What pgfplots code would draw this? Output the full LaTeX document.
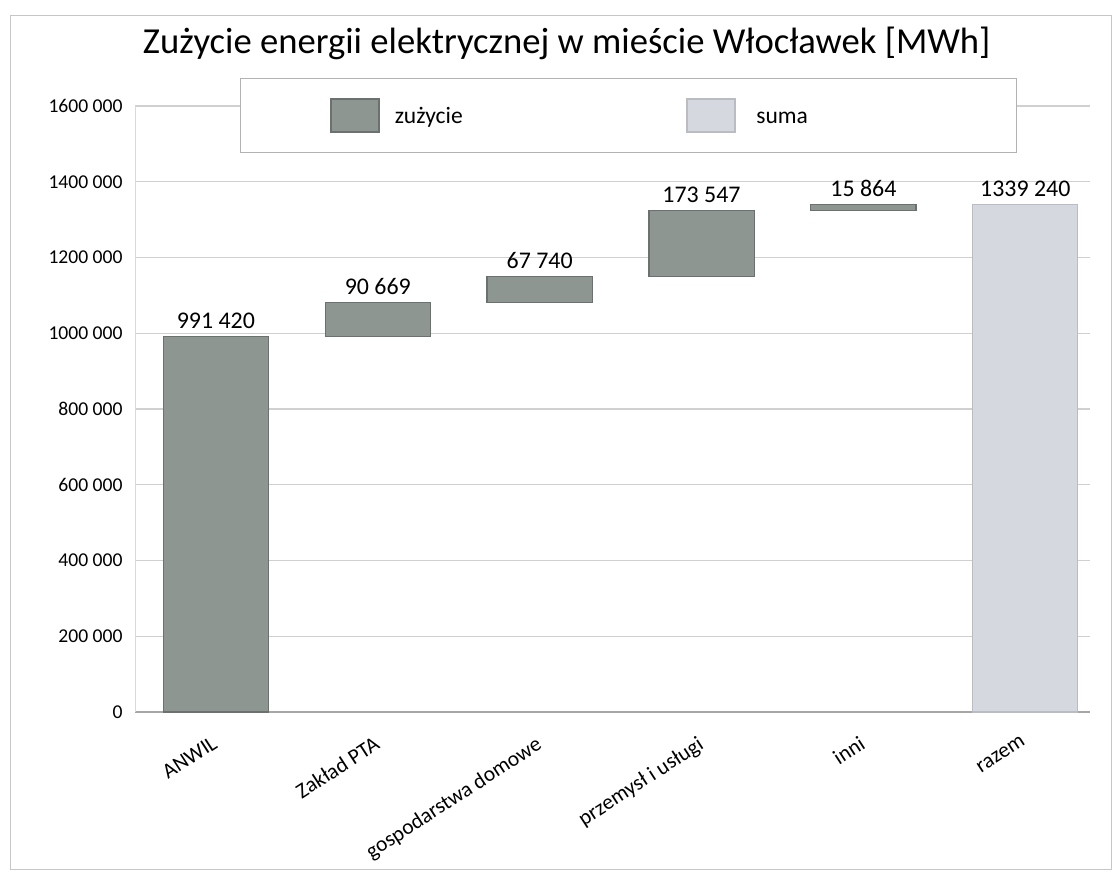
\documentclass[border=0pt]{standalone}
\usepackage{fontspec}
\setmainfont{Carlito}
\usepackage{pgfplots}
\usepackage{pgfplotstable}
\pgfplotsset{compat=1.18}

\definecolor{zuz}{HTML}{8E9692}
\definecolor{zuzdark}{HTML}{6B716E}
\definecolor{suma}{HTML}{D6D8DF}
\definecolor{sumadark}{HTML}{B9BCC3}
\definecolor{gridc}{HTML}{D0D0D0}

\pgfplotsset{
  boxlegend/.style={legend image code/.code={%
    \path (0cm,0cm);
    \draw[##1, line width=0.8pt] (1.51cm,-0.295cm) rectangle (2.37cm,0.295cm);}},
  frame/.style={at={(0,0)}, anchor=south west,
    scale only axis, width=17.13cm, height=10.87cm,
    xmin=-0.5, xmax=5.4, ymin=0, ymax=1600000, bar width=0.65},
}

% waterfall: invisible base + visible step
\pgfplotstableread[col sep=comma]{
x,base,val
0,0,991420
1,991420,90669
2,1082089,67740
3,1149829,173547
4,1323376,15864
}\zuzycie

\pgfplotstableread[col sep=comma]{
x,val
5,1339240
}\suma

% label positions (top of each bar) and texts
\pgfplotstableread[col sep=comma]{
x,top,lab
0,991420,991 420
1,1082089,90 669
2,1149829,67 740
3,1323376,173 547
4,1339240,15 864
5,1339240,1339 240
}\labels

\begin{document}
\begin{tikzpicture}
\begin{axis}[
  frame,
  ybar stacked,
  xtick={0,...,5},
  xticklabels={ANWIL, Zakład PTA, gospodarstwa domowe, przemysł i usługi, inni, razem},
  x tick label style={rotate=33, anchor=north east, font=\fontsize{11}{13}\selectfont,
    xshift=-0.18cm, yshift=-0.18cm},
  ytick={0,200000,...,1600000},
  yticklabels={0, 200 000, 400 000, 600 000, 800 000, 1000 000, 1200 000, 1400 000, 1600 000},
  y tick label style={font=\fontsize{10}{12}\selectfont, xshift=-0.1cm},
  scaled y ticks=false,
  major tick length=0pt,
  ymajorgrids, grid style={gridc, line width=0.6pt},
  axis x line*=bottom, axis y line*=left,
  x axis line style={gray!70, line width=0.7pt},
  y axis line style={gray!30},
  title={Zużycie energii elektrycznej w mieście Włocławek [MWh]},
  title style={at={(0.452,1.068)}, anchor=base, font=\fontsize{18.7}{22}\selectfont},
  legend columns=2,
  legend style={at={(0.110,1.046)}, anchor=north west, draw=gray!60, line width=0.6pt,
    inner xsep=0.1cm, inner ysep=0.35cm, font=\fontsize{12}{14}\selectfont},
]
\addplot[draw=none, fill=none, forget plot] table[x=x, y=base] {\zuzycie};
\addplot[fill=zuz, draw=zuzdark, line width=0.6pt, boxlegend]
  table[x=x, y=val] {\zuzycie};
\addlegendentry{\makebox[3.85cm][l]{\hspace{0.2cm}\strut zużycie}}
\addplot[fill=suma, draw=sumadark, line width=0.6pt, stack plots=false, boxlegend]
  table[x=x, y=val] {\suma};
\addlegendentry{\makebox[4.8cm][l]{\hspace{0.3cm}\strut suma}}
\end{axis}
% data labels on an overlaid axis, at the top of each bar
\begin{axis}[
  frame, ybar, hide axis,
  nodes near coords, point meta=explicit symbolic,
  nodes near coords style={font=\fontsize{12.2}{14}\selectfont, black, anchor=south, yshift=0.5pt},
]
\addplot[draw=none, fill=none] table[x=x, y=top, meta=lab] {\labels};
\end{axis}
\pgfresetboundingbox
\useasboundingbox (-2.421,-2.924) rectangle (17.578,12.771);
\draw[gray!45, line width=0.5pt] (-2.24,-2.83) rectangle (17.52,12.50);
\end{tikzpicture}
\end{document}
